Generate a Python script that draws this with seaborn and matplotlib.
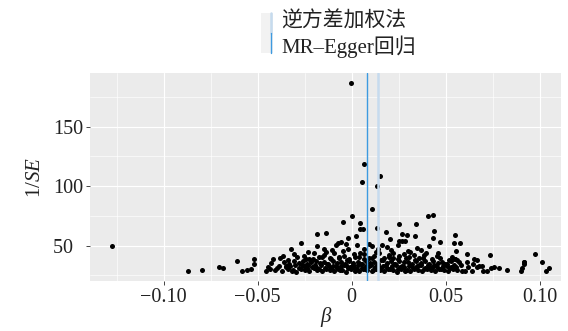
import matplotlib
matplotlib.use("Agg")
import matplotlib.pyplot as plt
from matplotlib.lines import Line2D
from matplotlib.patches import Rectangle
import seaborn as sns
import pandas as pd

# ---------------- data ----------------
beta_low = [-0.0871,-0.0795,-0.0584,-0.0559,-0.0534,-0.0457,-0.0435,-0.0408,-0.0372,-0.0341,
            -0.0318,-0.0296,-0.0270,-0.0248,-0.0225,-0.0201,-0.0183,-0.0160,-0.0139,-0.0117,
            -0.0095,-0.0072,-0.0050,-0.0029,-0.0006,0.0016,0.0039,0.0061,0.0083,0.0106,
            0.0128,0.0151,0.0172,0.0195,0.0218,0.0240,0.0262,0.0285,0.0308,0.0330,
            0.0352,0.0375,0.0398,0.0420,0.0443,0.0466,0.0490,0.0512,0.0537,0.0562,
            0.0588,0.0603,0.0641,0.0697,0.0718,0.0824,0.0899,0.1035]
se_low = [28.5,29.6,29.0,29.6,30.2,29.0,30.2,29.3,28.4,30.6,
          29.1,28.2,30.4,29.5,28.7,30.9,29.2,28.3,30.1,29.8,
          28.6,30.7,29.4,28.1,30.3,29.0,28.8,30.5,29.7,28.4,
          30.8,29.3,28.9,30.2,29.6,28.2,30.6,29.1,28.7,30.4,
          29.9,28.5,30.0,29.2,28.8,30.7,29.4,28.3,30.1,29.5,
          28.6,28.5,28.5,28.5,28.5,29.6,28.7,28.7]

beta_mid1 = [-0.0704,-0.0683,-0.0520,-0.0445,-0.0388,-0.0352,-0.0326,-0.0301,-0.0278,-0.0255,
             -0.0232,-0.0210,-0.0188,-0.0166,-0.0143,-0.0121,-0.0099,-0.0077,-0.0055,-0.0033,
             -0.0011,0.0011,0.0034,0.0056,0.0078,0.0100,0.0123,0.0145,0.0167,0.0190,
             0.0212,0.0235,0.0257,0.0280,0.0302,0.0325,0.0347,0.0370,0.0392,0.0415,
             0.0438,0.0460,0.0483,0.0507,0.0530,0.0556,0.0580,0.0620,0.0647,0.0665,
             0.0695,0.0739,0.0757,0.0785,0.0904,0.1048]
se_mid1 = [32.4,31.5,34.4,32.0,33.1,31.8,32.9,33.8,31.4,32.6,
           33.5,31.9,32.2,33.9,31.6,32.8,33.3,31.2,32.5,33.7,
           31.7,32.1,33.4,31.3,32.9,33.6,31.8,32.3,33.2,31.5,
           32.7,33.9,31.9,32.4,33.1,31.4,32.8,33.5,31.6,32.2,
           33.8,31.1,32.6,33.3,31.7,32.0,33.6,31.9,34.4,32.1,
           33.0,31.0,31.8,31.5,31.2,31.0]

beta_mid2 = [-0.0612,-0.0520,-0.0430,-0.0362,-0.0334,-0.0305,-0.0283,-0.0259,-0.0236,-0.0214,
             -0.0190,-0.0169,-0.0147,-0.0124,-0.0102,-0.0080,-0.0058,-0.0036,-0.0013,0.0009,
             0.0031,0.0053,0.0076,0.0098,0.0120,0.0142,0.0165,0.0187,0.0209,0.0232,
             0.0254,0.0276,0.0299,0.0321,0.0344,0.0366,0.0389,0.0411,0.0434,0.0457,
             0.0481,0.0505,0.0528,0.0550,0.0573,0.0615,0.0649,0.0668,0.0675,0.0917,
             0.0917,0.1012,0.0918]
se_mid2 = [37.1,38.6,35.2,36.0,34.8,37.3,35.6,36.9,34.6,35.9,
           37.5,35.1,36.4,34.9,37.0,35.7,36.2,34.7,37.4,35.3,
           36.6,34.5,37.2,35.8,36.1,34.8,37.6,35.4,36.7,34.6,
           37.1,35.9,36.3,35.0,37.3,35.5,36.8,34.7,37.0,35.2,
           36.5,34.9,37.4,38.8,36.0,36.3,38.8,38.0,32.9,36.6,
           34.6,36.3,36.6]

beta_mid3 = [-0.0367,-0.0307,-0.0254,-0.0228,-0.0200,-0.0172,-0.0146,-0.0118,-0.0093,-0.0067,
             -0.0041,-0.0015,0.0012,0.0038,0.0064,0.0090,0.0117,0.0143,0.0170,0.0196,
             0.0222,0.0249,0.0276,0.0302,0.0330,0.0357,0.0384,0.0452,0.0459,0.0532,
             0.0550,0.0615,0.0736,0.0977]
se_mid3 = [41.3,42.8,41.3,39.2,43.5,40.1,42.0,39.6,44.0,40.8,
           41.7,39.0,43.2,40.4,42.6,39.4,41.1,43.8,40.0,42.3,
           39.8,41.5,43.0,40.6,42.1,39.3,41.8,41.6,43.6,40.8,
           38.8,43.0,42.2,42.8]

beta_fill1 = [-0.0395,-0.0350,-0.0310,-0.0265,-0.0240,-0.0195,-0.0175,-0.0130,-0.0108,-0.0085,
              -0.0062,-0.0040,-0.0018,0.0005,0.0027,0.0048,0.0070,0.0092,0.0114,0.0136,
              0.0158,0.0180,0.0203,0.0225,0.0247,0.0270,0.0292,0.0315,0.0337,0.0360,
              0.0382,0.0405,0.0428,0.0450,0.0475,0.0498,0.0520,0.0545]
se_fill1 = [30.9,33.2,29.8,34.1,31.0,33.5,30.2,34.3,30.6,33.0,
            29.9,34.0,31.2,33.6,30.4,34.2,30.8,33.1,29.7,33.9,
            31.1,33.4,30.3,34.4,30.7,33.0,29.9,34.1,31.3,33.7,
            30.5,34.0,30.9,33.3,30.1,34.2,31.0,33.5]

beta_fill2 = [-0.0420,-0.0380,-0.0338,-0.0290,-0.0245,-0.0205,-0.0158,-0.0112,-0.0070,-0.0025,
              0.0020,0.0066,0.0110,0.0155,0.0200,0.0245,0.0290,0.0335,0.0380,0.0425,
              0.0470,0.0515,0.0560,-0.0135,-0.0045,0.0042,0.0130,0.0218,0.0308,0.0395]
se_fill2 = [38.5,39.8,38.2,40.5,39.0,38.4,40.2,38.9,39.6,38.1,
            40.4,38.7,39.3,38.0,40.1,38.6,39.7,38.3,40.0,38.8,
            39.4,38.2,37.8,44.5,45.2,43.9,45.0,44.2,44.8,43.6]

beta_up = [-0.0321,-0.0270,-0.0186,-0.0138,-0.0186,-0.0147,-0.0045,0.0003,0.0046,0.0046,
           0.0062,0.0023,0.0106,0.0136,0.0181,0.0253,0.0342,0.0407,0.0432,0.0436,
           0.0269,0.0294,0.0337,0.0204,0.0253,0.0468,0.0549,0.0543,0.0574,0.0557,
           -0.0018,0.0432,-0.0084,-0.0071,-0.0059,-0.0032,0.0030,0.0092,0.0110,0.0160,
           0.0209,0.0248,0.0284,0.0346,0.0369,0.0413,-0.1273,0.0266,-0.0105,-0.0020,
           0.0065,0.0140,0.0185,0.0300,-0.0230]
se_up = [47.2,52.5,59.8,60.4,49.5,47.2,69.9,74.7,69.1,64.3,
         64.3,58.4,80.6,65.1,61.3,68.0,68.5,75.2,76.1,62.1,
         59.6,59.0,58.2,55.4,54.2,53.4,59.2,52.5,52.5,45.8,
         56.7,56.7,50.6,52.0,53.4,51.2,50.6,51.4,49.7,50.6,
         46.4,50.6,54.0,47.8,46.4,49.7,49.5,54.2,46.0,47.5,
         46.8,47.0,48.5,45.5,45.0]

beta_top = [-0.0005, 0.0067, 0.0149, 0.0056, 0.0136]
se_top = [186.7, 118.7, 108.3, 103.8, 100.2]

ivw_beta = 0.0138
egger_beta = 0.0080
legend_labels = ["逆方差加权法", "MR\u2013Egger回归"]
xticks = [-0.10, -0.05, 0.0, 0.05, 0.10]
xtick_labels = ["\u22120.10", "\u22120.05", "0", "0.05", "0.10"]
yticks = [50, 100, 150]
ytick_labels = ["50  ", "100", "150"]

beta = (beta_low + beta_mid1 + beta_mid2 + beta_mid3 + beta_fill1 + beta_fill2
        + beta_up + beta_top)
inv_se = (se_low + se_mid1 + se_mid2 + se_mid3 + se_fill1 + se_fill2
          + se_up + se_top)
df = pd.DataFrame({"beta": beta, "inv_se": inv_se})

# ---------------- styling ----------------
sns.set_theme(style="darkgrid")
plt.rcParams["font.family"] = ["Liberation Serif", "Noto Sans CJK SC", "DejaVu Sans"]
plt.rcParams["mathtext.fontset"] = "custom"
plt.rcParams["mathtext.rm"] = "Liberation Serif"
plt.rcParams["mathtext.it"] = "Liberation Serif:italic"

W, H = 568, 331
fig = plt.figure(figsize=(W / 100, H / 100), dpi=100)
L, R, T, B = 90, 561, 73, 281
ax = fig.add_axes([L / W, 1 - B / H, (R - L) / W, (B - T) / H])
ax.set_facecolor("#EBEBEB")

sns.scatterplot(data=df, x="beta", y="inv_se", ax=ax, color="black",
                s=13, linewidth=0, zorder=3)

ivw_color = "#c6dbee"
egger_color = "#3d9ae0"
ax.axvline(ivw_beta, color=ivw_color, lw=1.8, zorder=4)
ax.axvline(egger_beta, color=egger_color, lw=1.0, zorder=4)

ax.set_xlim(-0.1392, 0.1113)
ax.set_ylim(20.3, 195.1)
ax.set_xticks(xticks)
ax.set_xticklabels(xtick_labels, fontsize=14.5, color="#222222")
ax.set_yticks(yticks)
ax.set_yticklabels(ytick_labels, fontsize=14.5, color="#222222")
ax.set_xticks([-0.125, -0.075, -0.025, 0.025, 0.075], minor=True)
ax.set_yticks([25, 75, 125, 175], minor=True)
ax.grid(which="major", color="white", lw=0.85)
ax.grid(which="minor", color="white", lw=0.45)
ax.tick_params(which="major", length=3, width=0.7, color="#444444", pad=2,
               bottom=True, left=True)
ax.tick_params(which="minor", length=0)
for sp in ax.spines.values():
    sp.set_visible(False)

ax.set_xlabel("β", fontstyle="italic", fontsize=15, labelpad=0, color="#222222")
ax.set_ylabel(r"1/$\mathit{SE}$", fontsize=15, labelpad=6, color="#222222")

# ---------------- legend (top) ----------------
def fx(px):
    return px / W

def fy(py):
    return 1 - py / H

fig.add_artist(Rectangle((fx(261), fy(53)), fx(12), 40 / H, transform=fig.transFigure,
                         facecolor="#F2F2F2", edgecolor="none"))
fig.add_artist(Line2D([fx(270.5), fx(270.5)], [fy(13), fy(33)], transform=fig.transFigure,
                      color=ivw_color, lw=1.8))
fig.add_artist(Line2D([fx(270.5), fx(270.5)], [fy(33), fy(53)], transform=fig.transFigure,
                      color=egger_color, lw=1.0))
fig.text(fx(281), fy(20.5), legend_labels[0], fontsize=15, va="center", ha="left",
         color="#222222", family=["Noto Sans CJK SC"])
fig.text(fx(281), fy(47), legend_labels[1], fontsize=15, va="center", ha="left",
         color="#222222", family=["Liberation Serif", "Noto Sans CJK SC"])

fig.savefig("out.png", dpi=100)
